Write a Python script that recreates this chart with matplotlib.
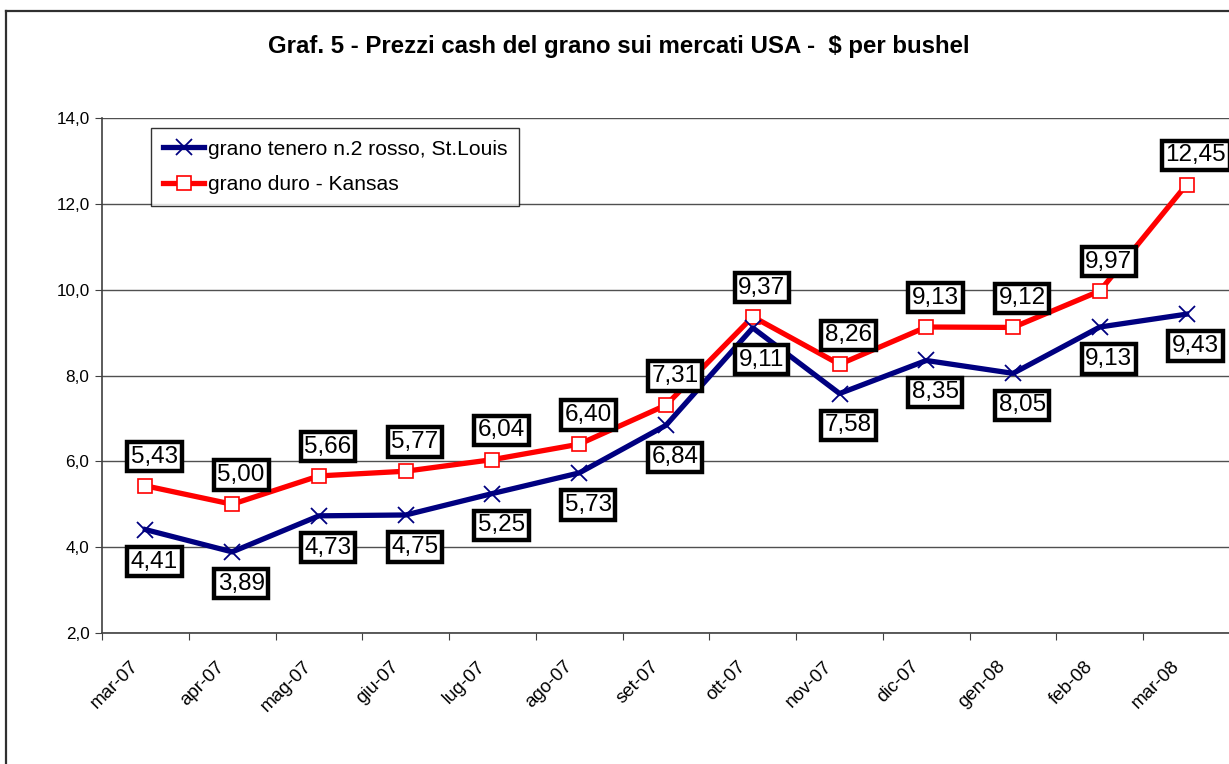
import matplotlib.pyplot as plt
from matplotlib.lines import Line2D
from matplotlib.transforms import ScaledTranslation
import numpy as np

plt.rcParams['font.family'] = ['Liberation Sans', 'DejaVu Sans']

months = ['mar-07', 'apr-07', 'mag-07', 'giu-07', 'lug-07', 'ago-07', 'set-07',
          'ott-07', 'nov-07', 'dic-07', 'gen-08', 'feb-08', 'mar-08']
tenero = [4.41, 3.89, 4.73, 4.75, 5.25, 5.73, 6.84, 9.11, 7.58, 8.35, 8.05, 9.13, 9.43]
duro = [5.43, 5.00, 5.66, 5.77, 6.04, 6.40, 7.31, 9.37, 8.26, 9.13, 9.12, 9.97, 12.45]
y_ticks = [2, 4, 6, 8, 10, 12, 14]

W, H = 1229, 764
fig = plt.figure(figsize=(W/100, H/100), dpi=100)
ax = fig.add_axes([102/W, 1-633/H, 1128/W, 515/H])

x = np.arange(len(months))

# outer chart frame (left and top visible, the rest is cut off)
fig.add_artist(Line2D([6/W, 6/W], [0, 1-11/H], color='#303030', lw=1.6, transform=fig.transFigure))
fig.add_artist(Line2D([6/W, 1], [1-11/H, 1-11/H], color='#303030', lw=1.6, transform=fig.transFigure))

# series
ax.plot(x, duro, color='#ff0000', lw=3.8, marker='s', ms=10, mfc='white', mec='#ff0000', mew=1.2,
        label='grano duro - Kansas', zorder=3)
ax.plot(x, tenero, color='#000080', lw=3.8, marker='x', ms=12, mec='#000080', mew=1.3,
        label='grano tenero n.2 rosso, St.Louis', zorder=4)

# data labels
box = dict(boxstyle='square,pad=0.15', fc='white', ec='black', lw=3.2)
for xi, v in zip(x, duro):
    ax.annotate(f'{v:.2f}'.replace('.', ','), (xi, v), xytext=(6.5, 21), textcoords='offset points',
                ha='center', va='center', fontsize=17.5, zorder=6, bbox=box)
for xi, v in zip(x, tenero):
    ax.annotate(f'{v:.2f}'.replace('.', ','), (xi, v), xytext=(6.5, -23), textcoords='offset points',
                ha='center', va='center', fontsize=17.5, zorder=6, bbox=box)

ax.set_xlim(-0.5, len(months) - 0.5)
ax.set_ylim(2, 14)
ax.set_yticks(y_ticks)
ax.set_yticklabels([f'{t:.1f}'.replace('.', ',') for t in y_ticks], fontsize=12.3)
ax.set_xticks(np.arange(-0.5, len(months), 1.0))
ax.set_xticklabels([])
ax.set_xticks(x, minor=True)
ax.set_xticklabels(months, minor=True, rotation=45, ha='right', va='top', rotation_mode='anchor',
                   fontsize=13.5)
ax.tick_params(axis='x', which='minor', length=0, pad=18)
ax.tick_params(axis='x', which='major', length=5, direction='out', color='#404040')
ax.tick_params(axis='y', length=5, direction='out', color='#404040', pad=4)
for lab in ax.get_xticklabels(minor=True):
    lab.set_transform(lab.get_transform() + ScaledTranslation(-0.16, 0, fig.dpi_scale_trans))
ax.grid(axis='y', color='#505050', lw=1)
ax.set_axisbelow(True)
for s in ['top', 'right']:
    ax.spines[s].set_visible(False)
for s in ['left', 'bottom']:
    ax.spines[s].set_color('#404040')
    ax.spines[s].set_linewidth(1.2)

handles, labels = ax.get_legend_handles_labels()
leg = fig.legend(handles[::-1], labels[::-1], loc='upper left', bbox_to_anchor=(151/W, 1-128/H),
                 borderaxespad=0, fancybox=False, edgecolor='black', fontsize=15.1,
                 handlelength=2.0, handletextpad=0.15, labelspacing=0.8, borderpad=0.55)
leg.get_frame().set_linewidth(1.0)

fig.text(619/W, 1-47/H, 'Graf. 5 - Prezzi cash del grano sui mercati USA -  $ per bushel',
         ha='center', va='center', fontsize=17.3, fontweight='bold')

fig.savefig('out.png', dpi=100)
